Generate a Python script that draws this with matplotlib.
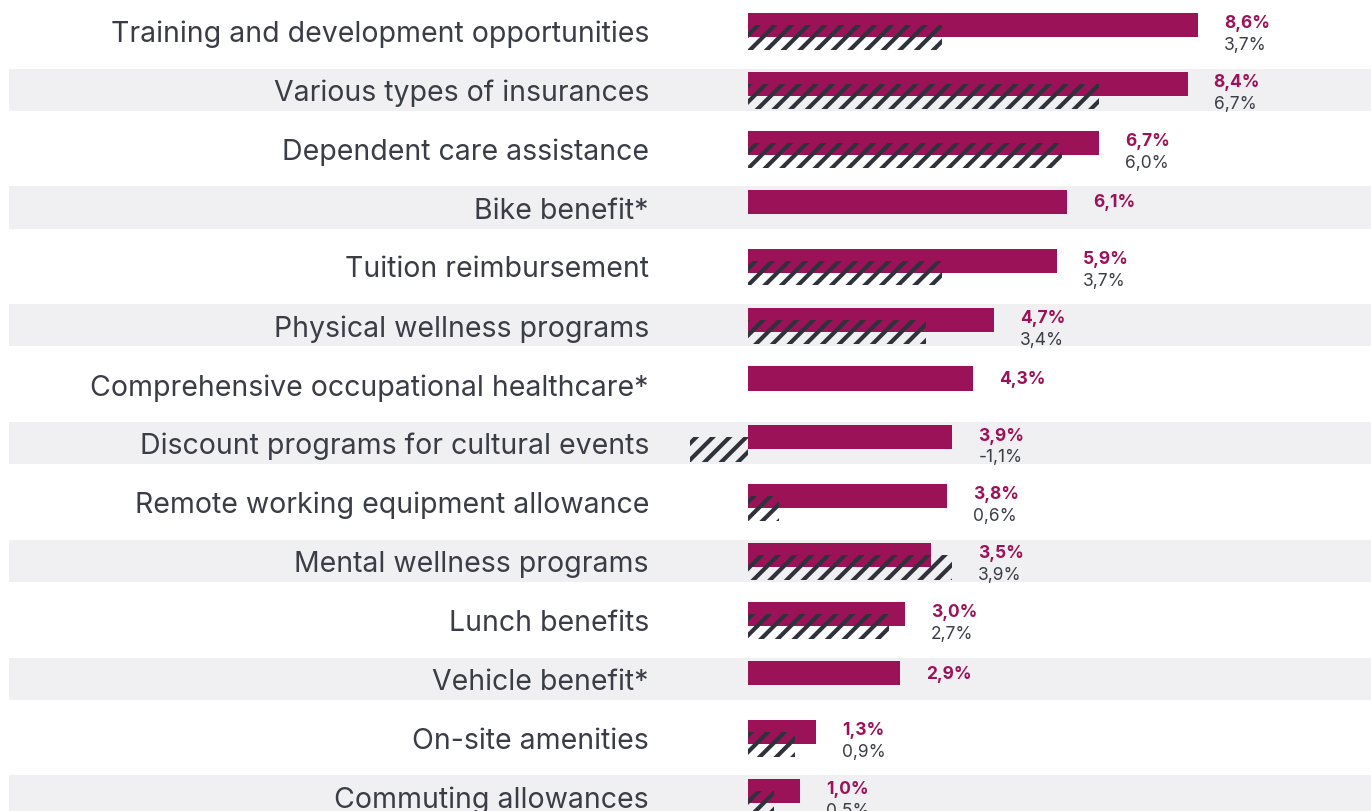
import matplotlib.pyplot as plt
import numpy as np

labels = [
    "Training and development opportunities",
    "Various types of insurances",
    "Dependent care assistance",
    "Bike benefit*",
    "Tuition reimbursement",
    "Physical wellness programs",
    "Comprehensive occupational healthcare*",
    "Discount programs for cultural events",
    "Remote working equipment allowance",
    "Mental wellness programs",
    "Lunch benefits",
    "Vehicle benefit*",
    "On-site amenities",
    "Commuting allowances",
]
current = [8.6, 8.4, 6.7, 6.1, 5.9, 4.7, 4.3, 3.9, 3.8, 3.5, 3.0, 2.9, 1.3, 1.0]
previous = [3.7, 6.7, 6.0, None, 3.7, 3.4, None, -1.1, 0.6, 3.9, 2.7, None, 0.9, 0.5]

MAGENTA = "#9b1259"
DARK = "#2f323a"
TEXT = "#3a3d45"
BAND = "#f0f0f2"

plt.rcParams["hatch.linewidth"] = 3.0
plt.rcParams["font.family"] = ["Inter", "DejaVu Sans"]

W, H = 1371, 812
fig = plt.figure(figsize=(W / 100, H / 100), dpi=100)
ax = fig.add_axes([0, 0, 1, 1])

px_per_unit = 52.33
zero_px = 748
row_px = 58.9
row0_px = 32
ax.set_xlim(-zero_px / px_per_unit, (W - zero_px) / px_per_unit)
ax.set_ylim((H - row0_px) / row_px, -row0_px / row_px)
ax.axis("off")

def fmt(v):
    return f"{v:.1f}".replace(".", ",") + "%"

y = np.arange(len(labels))
for i in y:
    if i % 2 == 1:
        ax.axhspan(i - 0.36, i + 0.355, xmin=9 / W, xmax=1, color=BAND, zorder=0, lw=0)

ax.barh(y - 0.1, current, height=0.41, color=MAGENTA, zorder=2)
for i, p in enumerate(previous):
    if p is None:
        continue
    ax.barh(i + 0.11, p, height=0.42, facecolor="none", edgecolor=DARK,
            hatch="//", linewidth=0, zorder=3)

for i, lab in enumerate(labels):
    ax.text((649 - zero_px) / px_per_unit, i + 0.04, lab, ha="right", va="center",
            fontsize=20.5, color=TEXT)
    end = max(current[i], previous[i] if previous[i] is not None else 0)
    xt = end + 0.5
    if previous[i] is None:
        ax.text(xt, i - 0.1, fmt(current[i]), ha="left", va="center",
                fontsize=12.5, fontweight="bold", color=MAGENTA)
    else:
        ax.text(xt, i - 0.14, fmt(current[i]), ha="left", va="center",
                fontsize=12.5, fontweight="bold", color=MAGENTA)
        ax.text(xt, i + 0.23, fmt(previous[i]), ha="left", va="center",
                fontsize=12.5, color=TEXT)

fig.savefig("out.png", dpi=100)
